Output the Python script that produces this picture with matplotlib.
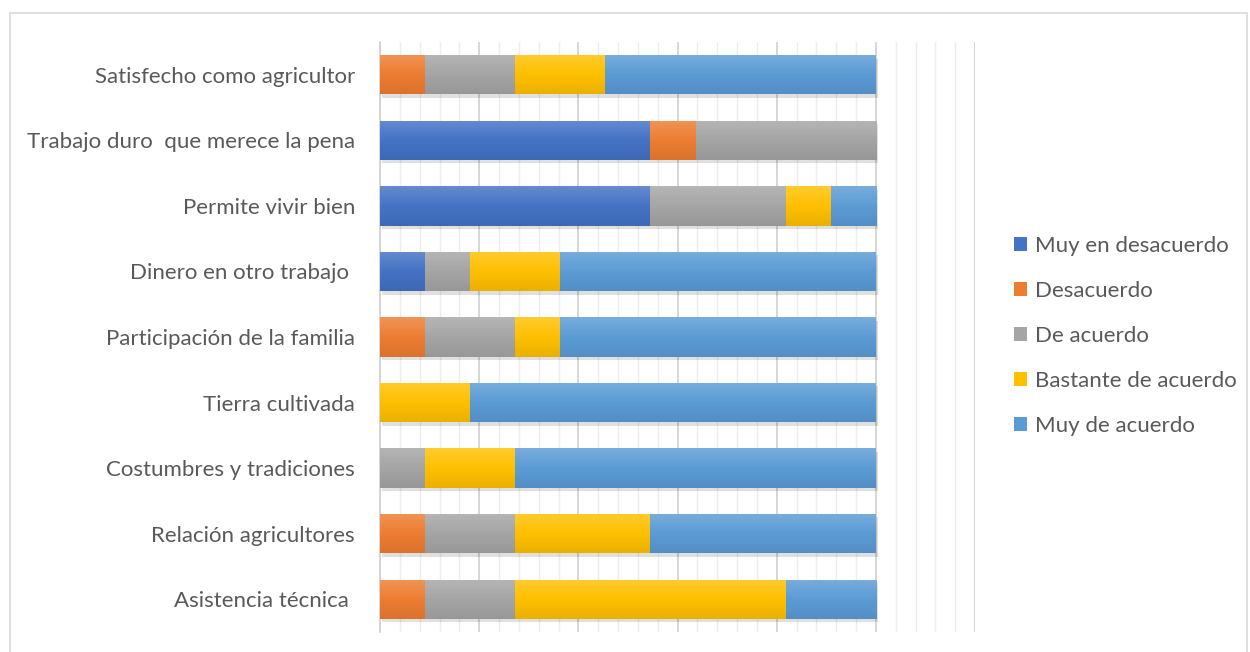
import numpy as np
import matplotlib
matplotlib.use("Agg")
import matplotlib.pyplot as plt
from matplotlib.colors import LinearSegmentedColormap, to_rgb
from matplotlib.patches import Rectangle, Patch
import matplotlib.patheffects as pe

plt.rcParams['font.family'] = ['Lato', 'DejaVu Sans']

# categories, top to bottom
categories = ["Satisfecho como agricultor", "Trabajo duro  que merece la pena",
              "Permite vivir bien", "Dinero en otro trabajo ",
              "Participación de la familia", "Tierra cultivada",
              "Costumbres y tradiciones", "Relación agricultores",
              "Asistencia técnica "]

series_names = ["Muy en desacuerdo", "Desacuerdo", "De acuerdo",
                "Bastante de acuerdo", "Muy de acuerdo"]

# respondent counts (11 per item)
muy_desacuerdo = [0, 6, 6, 1, 0, 0, 0, 0, 0]
desacuerdo = [1, 1, 0, 0, 1, 0, 0, 1, 1]
de_acuerdo = [2, 4, 3, 1, 2, 0, 1, 2, 2]
bastante = [2, 0, 1, 2, 1, 2, 2, 3, 6]
muy_acuerdo = [6, 0, 1, 7, 7, 9, 8, 5, 2]

colors = ["#4472C4", "#ED7D31", "#A5A5A5", "#FFC000", "#5B9BD5"]

series = [muy_desacuerdo, desacuerdo, de_acuerdo, bastante, muy_acuerdo]
total = np.array(muy_desacuerdo) + np.array(desacuerdo) + np.array(de_acuerdo) \
    + np.array(bastante) + np.array(muy_acuerdo)


def shade(c, f):
    r = np.array(to_rgb(c))
    if f > 0:
        return tuple(r + (1 - r) * f)
    return tuple(r * (1 + f))


fig = plt.figure(figsize=(12.5, 6.52), dpi=100)
ax = fig.add_axes([380 / 1250, 1 - 632 / 652, 595 / 1250, 590 / 652])

y = np.arange(len(categories))
grad = np.linspace(0, 1, 64).reshape(-1, 1)
left = np.zeros(len(categories))
for vals, name, c in zip(series, series_names, colors):
    pct = np.array(vals) / total * 100
    bars = ax.barh(y, pct, left=left, height=0.6, color=c, label=name, zorder=3, lw=0,
                   path_effects=[pe.SimplePatchShadow(offset=(1.5, -2.5), shadow_rgbFace="#000000", alpha=0.12),
                                 pe.Normal()])
    # soft vertical gradient like the office fill
    cmap = LinearSegmentedColormap.from_list("g", [shade(c, 0.18), c, shade(c, -0.08)])
    for b in bars:
        if b.get_width() <= 0:
            continue
        x0, y0 = b.get_x(), b.get_y()
        im = ax.imshow(grad, cmap=cmap, aspect="auto", zorder=4, interpolation="bilinear",
                       extent=(x0, x0 + b.get_width(), y0 + b.get_height(), y0), origin="upper")
        im.set_clip_path(b)
    left += pct

ax.set_xlim(0, 120)
ax.set_ylim(len(categories) - 0.5, -0.5)
ax.set_xticks(np.arange(0, 121, 20))
ax.set_xticks(np.arange(0, 121, 4), minor=True)
ax.grid(True, axis="x", which="minor", color="#EDEDED", lw=1, zorder=0)
ax.grid(True, axis="x", which="major", color="#D0D0D0", lw=1.2, zorder=1)
ax.tick_params(axis="x", which="both", length=0, labelbottom=False)
ax.tick_params(axis="y", length=0, pad=18, labelsize=16, labelcolor="#595959")
ax.set_yticks(y)
ax.set_yticklabels(categories)
for s in ["top", "right", "bottom"]:
    ax.spines[s].set_visible(False)
ax.spines["left"].set_color("#D0D0D0")
ax.spines["left"].set_linewidth(1.2)

handles = [Patch(facecolor=c, label=n) for n, c in zip(series_names, colors)]
fig.legend(handles=handles, loc="center left", bbox_to_anchor=(1014 / 1250, 1 - 336 / 652),
           frameon=False, fontsize=16, labelcolor="#595959", handlelength=0.6, handleheight=0.6,
           handletextpad=0.35, labelspacing=1.12, borderaxespad=0, borderpad=0)

# outer chart border
fig.patches.append(Rectangle((10 / 1250, -0.02), 1237 / 1250, 1 - 13 / 652 + 0.02,
                             transform=fig.transFigure, fill=False, edgecolor="#D9D9D9", lw=1.2))

fig.savefig("out.png", dpi=100)
